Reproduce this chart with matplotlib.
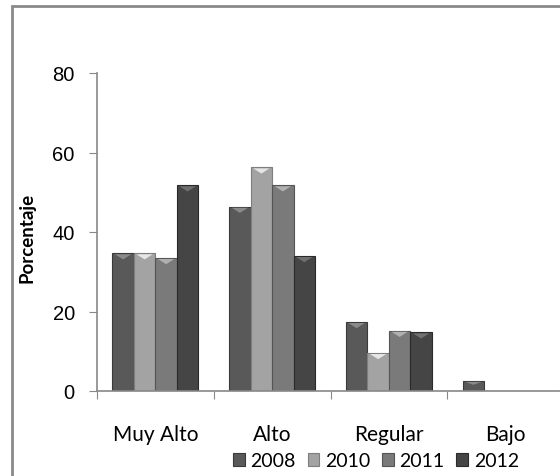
import matplotlib.pyplot as plt
import matplotlib.patches as mpatches
import numpy as np

categories = ['Muy Alto', 'Alto', 'Regular', 'Bajo']
years = ['2008', '2010', '2011', '2012']
v2008 = [34.7, 46.4, 17.4, 2.6]
v2010 = [34.7, 56.3, 9.6, 0]
v2011 = [33.5, 51.8, 15.2, 0]
v2012 = [51.8, 34.0, 14.8, 0]
yticks = [0, 20, 40, 60, 80]

series = [v2008, v2010, v2011, v2012]
colors = ['#595959', '#a3a3a3', '#7a7a7a', '#454545']
edges = ['#3a3a3a', '#7e7e7e', '#555555', '#2a2a2a']
tops = ['#8a8a8a', '#e6e6e6', '#b0b0b0', '#707070']

fig = plt.figure(figsize=(5.6, 4.77), dpi=100)
ax = fig.add_axes([97 / 560, 1 - 392 / 477, 467 / 560, 318 / 477])

# outer chart frame (cut off at right and bottom like the original)
frame = mpatches.Rectangle((12 / 560, -0.1), 1.2, 1.1 - 7 / 477, transform=fig.transFigure,
                           fill=False, edgecolor='#8a8a8a', linewidth=2, clip_on=False)
fig.patches.append(frame)

x = np.arange(len(categories))
w = 0.184
handles = []
for i, vals in enumerate(series):
    b = ax.bar(x + (i - 1.5) * w, vals, width=w, color=colors[i], edgecolor=edges[i],
               linewidth=0.8, label=years[i])
    handles.append(b)
    # bevel highlight on top of each bar
    for p in b.patches:
        h = p.get_height()
        if h <= 0:
            continue
        x0, bw = p.get_x(), p.get_width()
        d = min(1.6, h * 0.4)
        ax.fill([x0 + bw * 0.12, x0 + bw * 0.88, x0 + bw * 0.5], [h - 0.3, h - 0.3, h - d],
                color=tops[i], lw=0, zorder=3)

ax.set_xlim(-0.5, len(categories) - 0.5)
ax.set_ylim(0, 80)
ax.set_yticks(yticks)
ax.set_yticklabels([str(t) for t in yticks], fontfamily='Liberation Sans', fontsize=14.5)

ax.set_xticks(np.arange(len(categories) + 1) - 0.5)
ax.set_xticklabels([])
ax.set_xticks(x, minor=True)
ax.set_xticklabels(categories, minor=True, fontfamily='Lato', fontsize=15)
ax.tick_params(axis='x', which='minor', length=0, pad=24)
ax.tick_params(axis='x', which='major', length=6, color='#888888', direction='out')
ax.tick_params(axis='y', length=6, color='#888888', direction='out', pad=10)

for s in ['top', 'right']:
    ax.spines[s].set_visible(False)
for s in ['left', 'bottom']:
    ax.spines[s].set_color('#888888')
    ax.spines[s].set_linewidth(1.2)

fig.text(27 / 560, 1 - 238 / 477, 'Porcentaje', rotation=90, ha='center', va='center',
         fontsize=13.5, fontweight='bold', fontfamily='Lato')

fig.legend(handles=handles, labels=years, loc='center', bbox_to_anchor=(376 / 560, 1 - 462 / 477),
           ncol=4, frameon=False, prop={'family': 'Lato', 'size': 14},
           handlelength=0.6, handleheight=0.6, handletextpad=0.3, columnspacing=0.6)

fig.savefig('out.png', dpi=100)
